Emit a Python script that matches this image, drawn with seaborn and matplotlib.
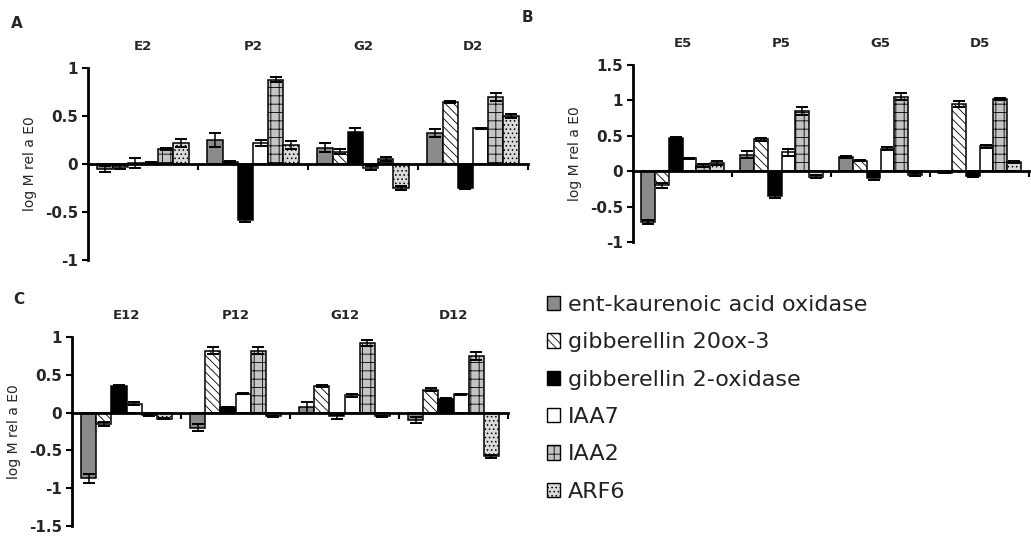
import numpy as np
import pandas as pd
import matplotlib
matplotlib.use('Agg')
import matplotlib.pyplot as plt
import seaborn as sns
from matplotlib.patches import Patch
from matplotlib.ticker import FixedLocator

# genes (hue order) and panel data
genes = ['ent-kaurenoic acid oxidase', 'gibberellin 20ox-3', 'gibberellin 2-oxidase',
         'IAA7', 'IAA2', 'ARF6']

groups_a = ['E2', 'P2', 'G2', 'D2']
vals_a = [[-0.05, -0.03, 0.01, 0.01, 0.16, 0.22],
          [0.25, 0.02, -0.58, 0.22, 0.88, 0.20],
          [0.17, 0.13, 0.33, -0.04, 0.05, -0.25],
          [0.32, 0.65, -0.25, 0.37, 0.70, 0.50]]
err_a = [[0.03, 0.02, 0.05, 0.01, 0.01, 0.04],
         [0.07, 0.01, 0.02, 0.03, 0.03, 0.04],
         [0.05, 0.03, 0.05, 0.02, 0.02, 0.02],
         [0.04, 0.01, 0.01, 0.01, 0.04, 0.02]]

groups_b = ['E5', 'P5', 'G5', 'D5']
vals_b = [[-0.72, -0.20, 0.47, 0.18, 0.08, 0.12],
          [0.23, 0.45, -0.35, 0.27, 0.85, -0.08],
          [0.20, 0.15, -0.10, 0.32, 1.05, -0.05],
          [-0.02, 0.95, -0.07, 0.35, 1.02, 0.13]]
err_b = [[0.03, 0.04, 0.01, 0.01, 0.02, 0.03],
         [0.05, 0.02, 0.03, 0.05, 0.05, 0.02],
         [0.01, 0.01, 0.02, 0.02, 0.05, 0.02],
         [0.01, 0.04, 0.01, 0.02, 0.02, 0.01]]

groups_c = ['E12', 'P12', 'G12', 'D12']
vals_c = [[-0.87, -0.15, 0.35, 0.12, -0.03, -0.08],
          [-0.20, 0.82, 0.07, 0.25, 0.82, -0.05],
          [0.07, 0.35, -0.05, 0.23, 0.92, -0.05],
          [-0.10, 0.30, 0.18, 0.24, 0.75, -0.58]]
err_c = [[0.06, 0.03, 0.02, 0.02, 0.01, 0.01],
         [0.05, 0.05, 0.01, 0.01, 0.05, 0.01],
         [0.07, 0.01, 0.03, 0.02, 0.04, 0.01],
         [0.04, 0.02, 0.01, 0.01, 0.05, 0.02]]

# bar looks per gene
face = ['#8a8a8a', 'white', 'black', 'white', '#c4c4c4', '#dadada']
hatch = ['', '\\\\\\\\', '', '', '++', '....']

sns.set_theme(style='white')
plt.rcParams['font.family'] = ['DejaVu Sans']
plt.rcParams['hatch.linewidth'] = 0.6


def draw_panel(ax, groups, vals, errs, ylim, yticks, letter, letter_xy):
    df = pd.DataFrame({'group': np.repeat(groups, len(genes)),
                       'gene': genes * len(groups),
                       'value': np.ravel(vals)})
    sns.barplot(data=df, x='group', y='value', hue='gene', order=groups,
                hue_order=genes, errorbar=None, width=0.83, saturation=1,
                edgecolor='black', linewidth=1.1, legend=False, ax=ax)
    errs = np.array(errs)
    bar_conts = list(ax.containers)
    for j, cont in enumerate(bar_conts):
        xs, ys = [], []
        for bar in cont:
            bar.set_facecolor(face[j])
            bar.set_hatch(hatch[j])
            bar.set_edgecolor('black')
            xs.append(bar.get_x() + bar.get_width() / 2)
            ys.append(bar.get_height())
        ax.errorbar(xs, ys, yerr=errs[:, j], fmt='none', ecolor='black',
                    elinewidth=1.1, capsize=4, capthick=1.4, zorder=5)

    ax.set_ylim(*ylim)
    ax.set_xlim(-0.5, len(groups) - 0.5)
    ax.set_yticks(yticks)
    ax.set_yticklabels([f'{t:g}' for t in yticks])
    ax.set_xlabel('')
    ax.set_ylabel('log M rel a E0', fontsize=10, labelpad=6)
    for s in ['top', 'right']:
        ax.spines[s].set_visible(False)
    ax.spines['bottom'].set_position(('data', 0))
    ax.spines['bottom'].set_linewidth(2)
    ax.spines['left'].set_linewidth(2)
    ax.spines['bottom'].set_color('black')
    ax.spines['left'].set_color('black')

    ax.xaxis.set_minor_locator(FixedLocator([0.5, 1.5, 2.5, 3.5]))
    ax.tick_params(axis='x', which='major', length=0, labeltop=True,
                   labelbottom=False, pad=11, labelsize=9.5)
    ax.tick_params(axis='x', which='minor', bottom=True, direction='out',
                   length=4, width=1.5, color='black')
    for lab in ax.get_xticklabels():
        lab.set_fontweight('bold')
    ax.tick_params(axis='y', left=True, direction='out', length=4, width=1.5,
                   color='black', labelsize=11, pad=3)
    for lab in ax.get_yticklabels():
        lab.set_fontweight('bold')
    ax.patch.set_alpha(0)
    ax.figure.text(letter_xy[0] / 1031, 1 - letter_xy[1] / 536, letter,
                   fontsize=11, fontweight='bold', ha='center', va='center')


fig = plt.figure(figsize=(10.31, 5.36), dpi=100)
ax_a = fig.add_axes([88 / 1031, 1 - 260 / 536, 440 / 1031, 192 / 536])
ax_b = fig.add_axes([633 / 1031, 1 - 242 / 536, 396 / 1031, 177 / 536])
ax_c = fig.add_axes([72 / 1031, 1 - 526 / 536, 436 / 1031, 189 / 536])

draw_panel(ax_a, groups_a, vals_a, err_a, (-1, 1), [-1, -0.5, 0, 0.5, 1], 'A', (17, 24))
draw_panel(ax_b, groups_b, vals_b, err_b, (-1, 1.5), [-1, -0.5, 0, 0.5, 1, 1.5], 'B', (527, 18))
draw_panel(ax_c, groups_c, vals_c, err_c, (-1.5, 1), [-1.5, -1, -0.5, 0, 0.5, 1], 'C', (19, 300))

handles = [Patch(facecolor=face[j], edgecolor='black', hatch=hatch[j], linewidth=1,
                 label=genes[j]) for j in range(len(genes))]
fig.legend(handles=handles, loc='upper left', bbox_to_anchor=(547 / 1031, 1 - 295 / 536),
           frameon=False, fontsize=16, handlelength=0.6, handleheight=0.6,
           handletextpad=0.35, labelspacing=0.78, borderpad=0, borderaxespad=0,
           labelcolor='#222222')

fig.savefig('out.png', dpi=100)
